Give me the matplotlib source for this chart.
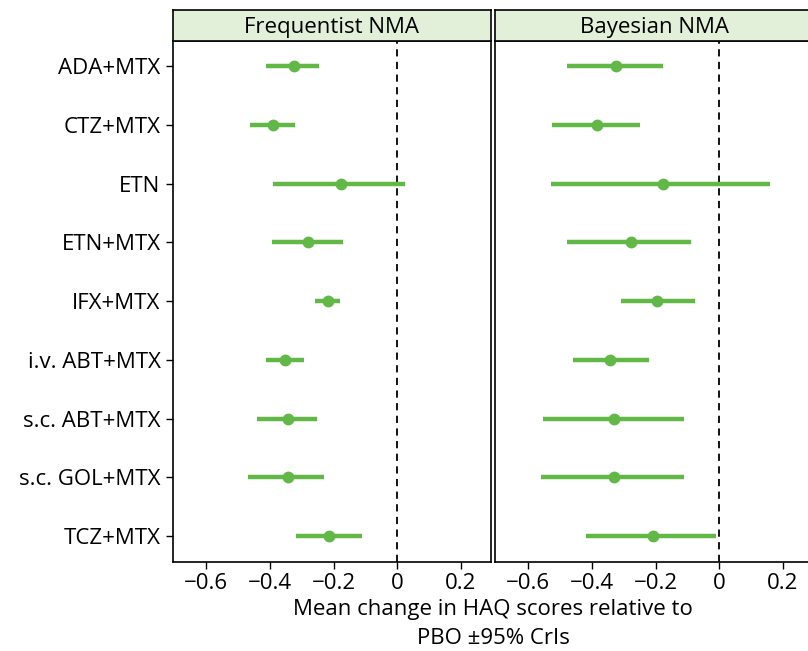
import matplotlib
matplotlib.use("Agg")
import matplotlib.pyplot as plt

plt.rcParams['font.family'] = ['Open Sans', 'DejaVu Sans']

treatments = ["ADA+MTX", "CTZ+MTX", "ETN", "ETN+MTX", "IFX+MTX",
              "i.v. ABT+MTX", "s.c. ABT+MTX", "s.c. GOL+MTX", "TCZ+MTX"]

freq_mean = [-0.326, -0.390, -0.177, -0.281, -0.219, -0.353, -0.343, -0.343, -0.215]
freq_lo   = [-0.413, -0.462, -0.390, -0.393, -0.258, -0.411, -0.442, -0.469, -0.317]
freq_hi   = [-0.246, -0.321,  0.025, -0.169, -0.180, -0.293, -0.251, -0.230, -0.111]

bayes_mean = [-0.325, -0.385, -0.178, -0.278, -0.195, -0.343, -0.332, -0.332, -0.208]
bayes_lo   = [-0.480, -0.525, -0.530, -0.478, -0.309, -0.459, -0.553, -0.561, -0.419]
bayes_hi   = [-0.176, -0.250,  0.160, -0.089, -0.076, -0.220, -0.112, -0.112, -0.011]

panel_titles = ["Frequentist NMA", "Bayesian NMA"]
xticks = [-0.6, -0.4, -0.2, 0, 0.2]
xtick_labels = ["\u22120.6", "\u22120.4", "\u22120.2", "0", "0.2"]

green = "#62b847"
W, H = 808, 651
fig = plt.figure(figsize=(W / 100, H / 100), dpi=100)

panels = [(173, freq_mean, freq_lo, freq_hi), (495, bayes_mean, bayes_lo, bayes_hi)]
pw = 318
top, bot = 41, 562
strip_top = 10
ys = list(range(len(treatments)))

for i, (x0, m, lo, hi) in enumerate(panels):
    ax = fig.add_axes([x0 / W, (H - bot) / H, pw / W, (bot - top) / H])
    ax.axvline(0, color="black", linestyle=(0, (4, 3)), linewidth=1.3, zorder=1)
    for y, mm, l, h in zip(ys, m, lo, hi):
        ax.plot([l, h], [y, y], color=green, linewidth=3.2, solid_capstyle="butt", zorder=2)
    ax.plot(m, ys, "o", color=green, markersize=7.5, zorder=3)
    ax.set_xlim(-0.705, 0.295)
    ax.set_ylim(8.44, -0.43)
    ax.set_xticks(xticks)
    ax.set_xticklabels(xtick_labels, fontsize=16)
    ax.set_yticks(ys)
    if i == 0:
        ax.set_yticklabels(treatments, fontsize=16)
        ax.tick_params(axis="y", length=5, width=1, pad=4)
    else:
        ax.set_yticklabels([])
        ax.tick_params(axis="y", length=0)
    ax.tick_params(axis="x", length=5, width=1, pad=3)
    for s in ax.spines.values():
        s.set_linewidth(1.2)
        s.set_color("black")
    # strip
    sax = fig.add_axes([x0 / W, (H - top) / H, pw / W, (top - strip_top) / H])
    sax.set_xticks([]); sax.set_yticks([])
    sax.set_facecolor("#e2efd9")
    for s in sax.spines.values():
        s.set_linewidth(1.2)
        s.set_color("black")
    sax.text(0.5, 0.45, panel_titles[i], ha="center", va="center", fontsize=16,
             transform=sax.transAxes)

fig.text(493 / W, 1 - 610 / H, "Mean change in HAQ scores relative to",
         ha="center", va="center", fontsize=16)
fig.text(493 / W, 1 - 638 / H, "PBO \u00b195% CrIs",
         ha="center", va="center", fontsize=16)

fig.savefig("out.png", dpi=100, facecolor="white")
